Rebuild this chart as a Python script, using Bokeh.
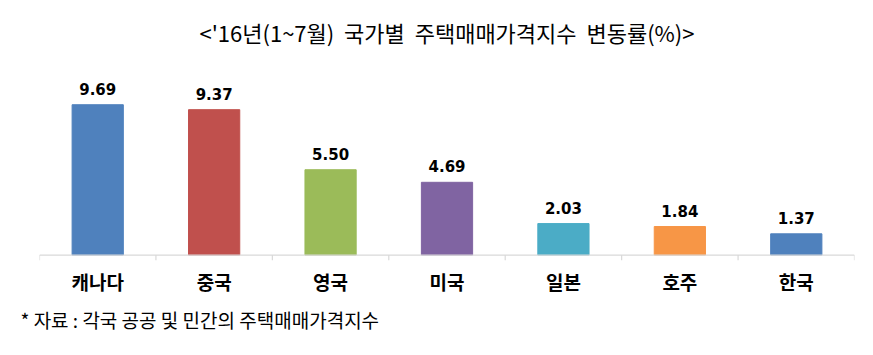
from bokeh.plotting import figure
from bokeh.models import ColumnDataSource, FactorRange, Range1d, Title
from bokeh.core.properties import value
from bokeh.embed import file_html
from bokeh.resources import INLINE

categories = ["캐나다", "중국", "영국", "미국", "일본", "호주", "한국"]
values = [9.69, 9.37, 5.50, 4.69, 2.03, 1.84, 1.37]
colors = ["#4F81BD", "#C0504D", "#9BBB59", "#8064A2", "#4BACC6", "#F79646", "#4F81BD"]
labels = ["%.2f" % v for v in values]
title_text = "<'16년(1~7월)\u00a0\u00a0국가별\u00a0\u00a0주택매매가격지수\u00a0\u00a0변동률(%)>"
note_text = "* 자료 : 각국 공공 및 민간의 주택매매가격지수"

src = ColumnDataSource(dict(cat=categories, val=values, color=colors, lab=labels))

p = figure(width=873, height=355, x_range=FactorRange(*categories, range_padding=0),
           y_range=Range1d(-0.35, 12.54), output_backend="svg", toolbar_location=None,
           min_border_left=39, min_border_right=19, min_border_top=60, min_border_bottom=95,
           title=title_text)
p.title.align = "center"
p.title.text_font = "Noto Sans CJK KR"
p.title.text_font_style = "normal"
p.title.text_font_size = "22px"
p.title.text_color = "#000000"
p.title.standoff = 25

p.outline_line_color = None
p.background_fill_color = "white"
p.border_fill_color = "white"
p.xgrid.visible = False
p.ygrid.visible = False
p.yaxis.visible = False

p.vbar(x="cat", top="val", width=0.44, bottom=0, color="color", line_color="color", source=src)
p.text(x="cat", y="val", text="lab", source=src, text_align="center", text_baseline="alphabetic",
       y_offset=-16, text_font=value("DejaVu Sans"), text_font_style="bold",
       text_font_size="15px", text_color="#000000")

# axis baseline and boundary ticks
n = len(categories)
bounds = list(range(n + 1))
p.segment(x0=[0], x1=[n], y0=[0], y1=[0], line_color="#d9d9d9", line_width=1.2)
p.segment(x0=bounds, x1=bounds, y0=[0] * (n + 1), y1=[-0.35] * (n + 1), line_color="#d9d9d9", line_width=1.2)

ax = p.xaxis[0]
ax.axis_line_color = None
ax.major_tick_line_color = None
ax.minor_tick_line_color = None
ax.major_label_standoff = 1
ax.major_label_text_font = "Noto Sans CJK KR"
ax.major_label_text_font_style = "bold"
ax.major_label_text_font_size = "19px"
ax.major_label_text_color = "#000000"

note = Title(text=note_text, align="left", offset=-19, text_font="Noto Sans CJK KR",
             text_font_style="normal", text_font_size="19px", text_color="#000000", standoff=12)
p.add_layout(note, "below")

open("out.html", "w").write(file_html(p, INLINE))
